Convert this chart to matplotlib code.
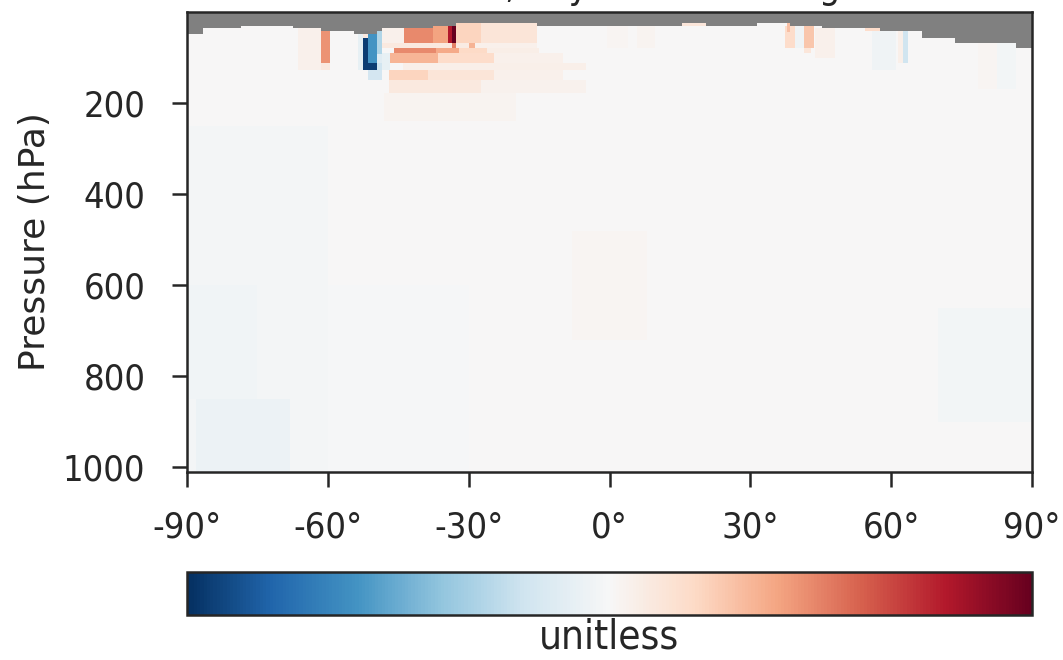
import numpy as np
import matplotlib
matplotlib.use("Agg")
import matplotlib.pyplot as plt

# ---- data ----
# top of valid data (hPa) for each latitude band; above it the panel is gray
top_lat_edges = [-90, -86.5, -78.6, -67.5, -61.5, -54.5, -49.6, -48.5, -37.5, -32.6,
                 -15.5, 15.4, 20.5, 31.4, 38.5, 45.2, 57.6, 66.5, 73.6, 86.6, 90]
top_pressure = [49, 36, 30, 36, 41, 49, 41, 36, 30, 25,
                30, 25, 30, 25, 30, 36, 41, 58, 69, 80]

# patches of the field: lat range, pressure range (hPa), value (unitless)
# later entries are painted over earlier ones
box_lat0 = [-90, -88, -90, -8, 70, -60,
            -66.4, -61.5, -61.5, -53.6, -52.6, -52.6, -51.5, -51.5, -51.5, -49.6, -49.6, -49.6, -48.5,
            -48.5, -43.7, -37.5, -34.5, -33.6, -32.6, -27.3,
            -48.5, -33.6, -32.6, -29.9, -28.6,
            -45.8, -37, -32, -26,
            -46.8, -36.6, -24.5,
            -44,
            -47, -38.7, -24.5,
            -47, -27.3,
            -48,
            -0.5, 5.8, 15.4, 37.3, 37.9, 39.6, 41.5, 41.5, 43.8, 54.4, 56, 61.5, 62.5, 78.5, 82.5]
box_lat1 = [-60, -68, -75, 8, 90, -30,
            -61.5, -59.6, -59.6, -52.6, -51.5, -51.5, -49.6, -49.6, -48.5, -48.5, -48.5, -48.5, -46.8,
            -43.7, -37.5, -34.5, -33.6, -32.6, -27.3, -15.5,
            -33.6, -32.6, -29.9, -28.6, -15.5,
            -37, -32, -26, -15,
            -36.6, -24.5, -10,
            -5,
            -38.7, -24.5, -10,
            -27.3, -5,
            -20,
            4, 9.6, 20.5, 39.6, 38.5, 41.5, 43.6, 42.9, 48, 57.6, 61, 62.5, 63.6, 82.5, 86.6]
box_p0 = [250, 850, 600, 480, 650, 600,
          36, 41, 111, 49, 49, 58, 49, 111, 128, 41, 93, 111, 91,
          36, 36, 30, 30, 30, 25, 25,
          69, 69, 69, 69, 69,
          80, 80, 80, 80,
          91, 91, 91,
          111,
          128, 128, 128,
          150, 150,
          177,
          30, 30, 25, 30, 25, 30, 30, 80, 36, 36, 41, 41, 41, 69, 69]
box_p1 = [1010, 1010, 850, 720, 900, 1010,
          128, 111, 128, 128, 58, 128, 111, 128, 150, 93, 111, 128, 128,
          69, 69, 69, 69, 69, 69, 69,
          80, 80, 80, 80, 80,
          91, 91, 91, 91,
          111, 111, 111,
          128,
          150, 150, 150,
          177, 177,
          240,
          80, 80, 30, 80, 44, 80, 80, 91, 100, 41, 128, 111, 111, 170, 170]
box_val = [-0.02, -0.06, -0.035, 0.02, -0.03, -0.015,
           0.05, 0.45, 0.1, -0.08, 0.1, -0.95, -0.6, -0.95, -0.18, -0.3, -0.12, -0.2, -0.08,
           0.05, 0.48, 0.4, 0.8, 1.0, 0.22, 0.13,
           0.1, 0.5, 0.08, 0.35, 0.05,
           0.48, 0.38, 0.2, 0.07,
           0.34, 0.18, 0.05,
           0.06,
           0.22, 0.13, 0.05,
           0.1, 0.04,
           0.03,
           0.02, 0.03, 0.12, 0.18, 0.3, -0.04, 0.28, 0.12, 0.05, 0.18, -0.04, 0.06, -0.2, 0.02, -0.03]

xticks = [-90, -60, -30, 0, 30, 60, 90]
yticks = [200, 400, 600, 800, 1000]
p_bottom = 1010

# ---- build the grid from the patch edges ----
lat_edges = np.unique(np.r_[top_lat_edges, box_lat0, box_lat1])
p_edges = np.unique(np.r_[0, top_pressure, box_p0, box_p1, p_bottom])
lat_c = 0.5 * (lat_edges[:-1] + lat_edges[1:])
p_c = 0.5 * (p_edges[:-1] + p_edges[1:])
LAT, P = np.meshgrid(lat_c, p_c)

field = np.zeros_like(LAT)
for a, b, p0, p1, v in zip(box_lat0, box_lat1, box_p0, box_p1, box_val):
    field[(LAT > a) & (LAT < b) & (P > p0) & (P < p1)] = v

top_idx = np.clip(np.searchsorted(top_lat_edges, lat_c) - 1, 0, len(top_pressure) - 1)
top_of_data = np.array(top_pressure)[top_idx]
field[P < top_of_data[None, :]] = np.nan
field = np.ma.masked_invalid(field)

# ---- style ----
dark = "#262626"
plt.rcParams.update({
    "font.family": "DejaVu Sans",
    "font.stretch": "condensed",
    "font.size": 26,
    "text.color": dark,
    "axes.labelcolor": dark,
    "axes.edgecolor": dark,
    "axes.linewidth": 1.8,
    "xtick.color": dark,
    "ytick.color": dark,
    "xtick.major.width": 1.8,
    "ytick.major.width": 1.8,
    "xtick.major.size": 11,
    "ytick.major.size": 11,
})

fig = plt.figure(figsize=(10.63, 6.6), dpi=100)
ax = fig.add_axes([187 / 1063, 1 - 472 / 660, 845 / 1063, 460 / 660])
ax.set_facecolor("#808080")

mesh = ax.pcolormesh(lat_edges, p_edges, field, cmap="RdBu_r", vmin=-1, vmax=1,
                     shading="flat")
ax.set_xlim(-90, 90)
ax.set_ylim(p_bottom, 0)
ax.set_xticks(xticks)
ax.set_xticklabels([f"{v}°" for v in xticks])
ax.set_yticks(yticks)
ax.tick_params(axis="x", pad=17)
ax.tick_params(axis="y", pad=19)
ax.set_ylabel("Pressure (hPa)", labelpad=8, fontstretch="normal")
ax.set_title("Cloud fraction, daytime minus nighttime", fontsize=27, pad=10)

cax = fig.add_axes([187 / 1063, 1 - 615 / 660, 845 / 1063, 43 / 660])
cbar = fig.colorbar(mesh, cax=cax, orientation="horizontal")
cbar.set_ticks([])
cbar.outline.set_linewidth(1.8)
cbar.set_label("unitless", fontsize=29, labelpad=2)

fig.savefig("out.png", dpi=100)
